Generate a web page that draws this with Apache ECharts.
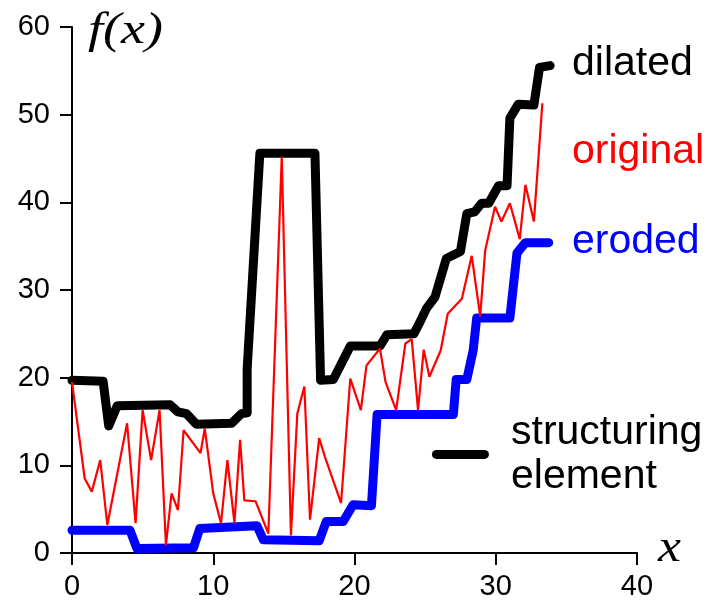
<!DOCTYPE html>
<html>
<head>
<meta charset="utf-8">
<script src="https://cdn.jsdelivr.net/npm/echarts@6/dist/echarts.min.js"></script>
<style>
  html, body { margin: 0; padding: 0; background: #fff; }
  #chart { width: 709px; height: 601px; }
</style>
</head>
<body>
<div id="chart"></div>
<script>
// original signal f(x), [x, y]
const original = [
  [0, 19.5], [0.9, 8.5], [1.4, 7.0], [2.0, 10.6], [2.5, 3.2], [3.9, 14.8],
  [4.5, 3.4], [5.0, 16.3], [5.6, 10.6], [6.2, 16.3], [6.65, 0.9], [7.05, 6.8],
  [7.5, 4.9], [7.9, 14.0], [9.1, 11.4], [9.4, 14.2], [10.0, 6.8], [10.55, 3.4],
  [11.0, 10.6], [11.5, 3.4], [11.9, 12.9], [12.2, 6.0], [13.0, 5.9], [13.9, 2.2],
  [14.85, 45.2], [15.5, 2.0], [15.95, 15.9], [16.45, 19.0], [16.85, 3.8], [17.5, 13.1],
  [17.9, 11.0], [19.05, 5.7], [19.7, 19.9], [20.45, 16.3], [20.85, 21.4], [21.8, 23.3],
  [22.2, 19.5], [22.95, 16.3], [23.6, 23.9], [24.05, 24.4], [24.5, 16.3], [24.9, 23.2],
  [25.3, 20.1], [26.1, 23.1], [26.6, 27.3], [27.6, 29.0], [28.3, 33.9], [28.9, 27.0],
  [29.25, 34.5], [29.95, 39.5], [30.4, 37.8], [31.0, 39.9], [31.7, 35.8], [32.1, 42.0],
  [32.7, 37.8], [33.3, 51.3]
];

// dilation result
const dilated = [
  [0, 19.7], [2.2, 19.6], [2.6, 14.5], [3.2, 16.8], [6.95, 16.9], [7.5, 16.1],
  [8.1, 15.9], [8.8, 14.7], [11.3, 14.8], [12.0, 15.9], [12.4, 16.0], [12.4, 21.0],
  [13.3, 45.6], [17.2, 45.6], [17.6, 19.7], [18.5, 19.8], [19.7, 23.6], [21.8, 23.6],
  [22.3, 24.9], [24.2, 25.0], [24.65, 26.4], [25.1, 27.9], [25.7, 29.2], [26.5, 33.6],
  [27.5, 34.4], [27.95, 38.7], [28.5, 38.9], [29.0, 39.9], [29.5, 39.9], [30.2, 41.9],
  [30.8, 41.9], [31.0, 49.6], [31.6, 51.2], [32.7, 51.1], [33.1, 55.4], [33.85, 55.6]
];

// erosion result
const eroded = [
  [0, 2.6], [4.1, 2.6], [4.6, 0.5], [8.6, 0.6], [9.05, 2.8], [13.1, 3.1],
  [13.55, 1.5], [17.5, 1.4], [18.0, 3.6], [19.2, 3.6], [19.9, 5.5], [21.2, 5.4],
  [21.6, 15.8], [27.0, 15.8], [27.2, 19.8], [27.95, 19.8], [28.4, 23.1], [28.65, 26.8],
  [31.0, 26.8], [31.5, 34.2], [32.1, 35.4], [33.75, 35.4]
];

// structuring element sample
const structElem = [[25.8, 11.25], [29.2, 11.25]];

const xTicks = [0, 10, 20, 30, 40];
const yTicks = [0, 10, 20, 30, 40, 50, 60];

const sans = '"Liberation Sans", Arial, sans-serif';
const serif = '"Liberation Serif", "Times New Roman", serif';

const chart = echarts.init(document.getElementById('chart'));

const axisCommon = {
  type: 'value',
  splitLine: { show: false },
  axisLine: { show: true, onZero: false, lineStyle: { color: '#000', width: 2 } },
  axisTick: { show: true, length: 12, lineStyle: { color: '#000', width: 2 } },
  axisLabel: { color: '#000', fontSize: 29, fontFamily: sans }
};

const option = {
  animation: false,
  backgroundColor: '#fff',
  grid: { left: 72, right: 72, top: 27, bottom: 48 },
  xAxis: Object.assign({}, axisCommon, {
    min: xTicks[0],
    max: xTicks[xTicks.length - 1],
    interval: 10,
    axisLabel: Object.assign({}, axisCommon.axisLabel, { margin: 19 })
  }),
  yAxis: Object.assign({}, axisCommon, {
    min: yTicks[0],
    max: yTicks[yTicks.length - 1],
    interval: 10,
    axisLabel: Object.assign({}, axisCommon.axisLabel, { margin: 22 })
  }),
  series: [
    {
      name: 'dilated',
      type: 'line',
      data: dilated,
      symbol: 'none',
      lineStyle: { color: '#000', width: 9, cap: 'round', join: 'round' },
      z: 2
    },
    {
      name: 'eroded',
      type: 'line',
      data: eroded,
      symbol: 'none',
      lineStyle: { color: '#0000ff', width: 9, cap: 'round', join: 'round' },
      z: 2
    },
    {
      name: 'original',
      type: 'line',
      data: original,
      symbol: 'none',
      lineStyle: { color: '#ff0000', width: 2.2 },
      z: 3
    },
    {
      name: 'structuring element',
      type: 'line',
      data: structElem,
      symbol: 'none',
      lineStyle: { color: '#000', width: 9, cap: 'round' },
      z: 2
    }
  ],
  graphic: [
    { type: 'text', x: 88, y: 9, scaleX: 1.2, style: { text: 'f(x)', font: 'italic 45px ' + serif, fill: '#000' } },
    { type: 'text', x: 658, y: 525, scaleX: 1.1, style: { text: 'x', font: 'italic 47px ' + serif, fill: '#000' } },
    { type: 'text', left: 572, top: 43, style: { text: 'dilated', font: '41px ' + sans, fill: '#000' } },
    { type: 'text', left: 572, top: 131, style: { text: 'original', font: '41px ' + sans, fill: '#ff0000' } },
    { type: 'text', left: 572, top: 221, style: { text: 'eroded', font: '41px ' + sans, fill: '#0000ff' } },
    { type: 'text', left: 511, top: 412, style: { text: 'structuring', font: '41px ' + sans, fill: '#000' } },
    { type: 'text', left: 511, top: 456, style: { text: 'element', font: '41px ' + sans, fill: '#000' } }
  ]
};

chart.setOption(option);
</script>
</body>
</html>
